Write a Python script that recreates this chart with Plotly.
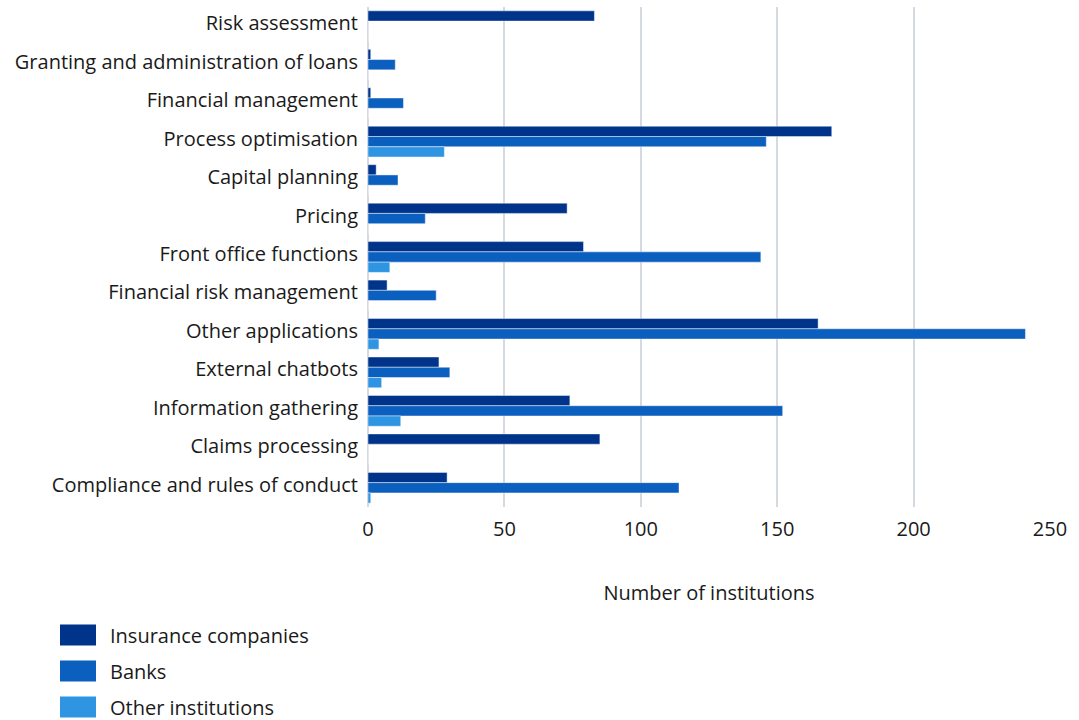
import plotly.graph_objects as go

# Use cases, listed top to bottom
categories = [
    "Risk assessment",
    "Granting and administration of loans",
    "Financial management",
    "Process optimisation",
    "Capital planning",
    "Pricing",
    "Front office functions",
    "Financial risk management",
    "Other applications",
    "External chatbots",
    "Information gathering",
    "Claims processing",
    "Compliance and rules of conduct",
]

insurance = [83, 1, 1, 170, 3, 73, 79, 7, 165, 26, 74, 85, 29]
banks = [0, 10, 13, 146, 11, 21, 144, 25, 241, 30, 152, 0, 114]
other = [0, 0, 0, 28, 0, 0, 8, 0, 4, 5, 12, 0, 1]

series_names = ["Insurance companies", "Banks", "Other institutions"]
series_values = [insurance, banks, other]
series_colors = ["#00338a", "#0b5fbe", "#2f95e3"]

x_ticks = [0, 50, 100, 150, 200, 250]

FONT = "Open Sans, Noto Sans, sans-serif"
TEXT = "#1a1a1a"
GRID = "#d5d9e0"
FS = 20

fig = go.Figure()
for name, vals, col in zip(series_names, series_values, series_colors):
    fig.add_trace(go.Bar(
        y=categories,
        x=vals,
        name=name,
        orientation="h",
        marker=dict(color=col, line=dict(color="rgba(255,255,255,0.55)", width=0.8)),
        showlegend=False,
    ))

W, H = 1079, 720
L, R, T, B = 368, 29, 7, 213

fig.update_layout(
    width=W,
    height=H,
    margin=dict(l=L, r=R, t=T, b=B, autoexpand=False),
    barmode="group",
    bargap=0.2,
    bargroupgap=0,
    plot_bgcolor="white",
    paper_bgcolor="white",
    font=dict(family=FONT, size=FS, color=TEXT),
    xaxis=dict(
        range=[0, 250],
        tickvals=x_ticks,
        ticktext=[str(t) for t in x_ticks],
        showgrid=True,
        gridcolor=GRID,
        gridwidth=1.5,
        zeroline=True,
        zerolinecolor=GRID,
        zerolinewidth=1.5,
        showline=False,
        ticks="",
        ticklabelstandoff=8,
        tickfont=dict(size=FS, color=TEXT),
        title=dict(text="Number of institutions", standoff=44, font=dict(size=FS, color=TEXT)),
        fixedrange=True,
    ),
    yaxis=dict(
        autorange="reversed",
        showgrid=False,
        ticks="",
        showline=False,
        ticklabelstandoff=9,
        ticklabelshift=3,
        tickfont=dict(size=FS, color=TEXT),
        fixedrange=True,
    ),
)

# Legend drawn as swatches with labels below the plot
legend_y = [635, 671, 707]
for name, col, yc in zip(series_names, series_colors, legend_y):
    fig.add_shape(
        type="rect", xref="paper", yref="paper",
        x0=(60 - L) / (W - L - R), x1=(96 - L) / (W - L - R),
        y0=(H - B - (yc + 10.5)) / (H - T - B), y1=(H - B - (yc - 10.5)) / (H - T - B),
        fillcolor=col, line=dict(width=0),
    )
    fig.add_annotation(
        xref="paper", yref="paper",
        x=(108 - L) / (W - L - R), y=(H - B - yc) / (H - T - B),
        xanchor="left", yanchor="middle",
        text=name, showarrow=False,
        font=dict(size=FS, color=TEXT, family=FONT),
    )

fig.write_html("out.html")
